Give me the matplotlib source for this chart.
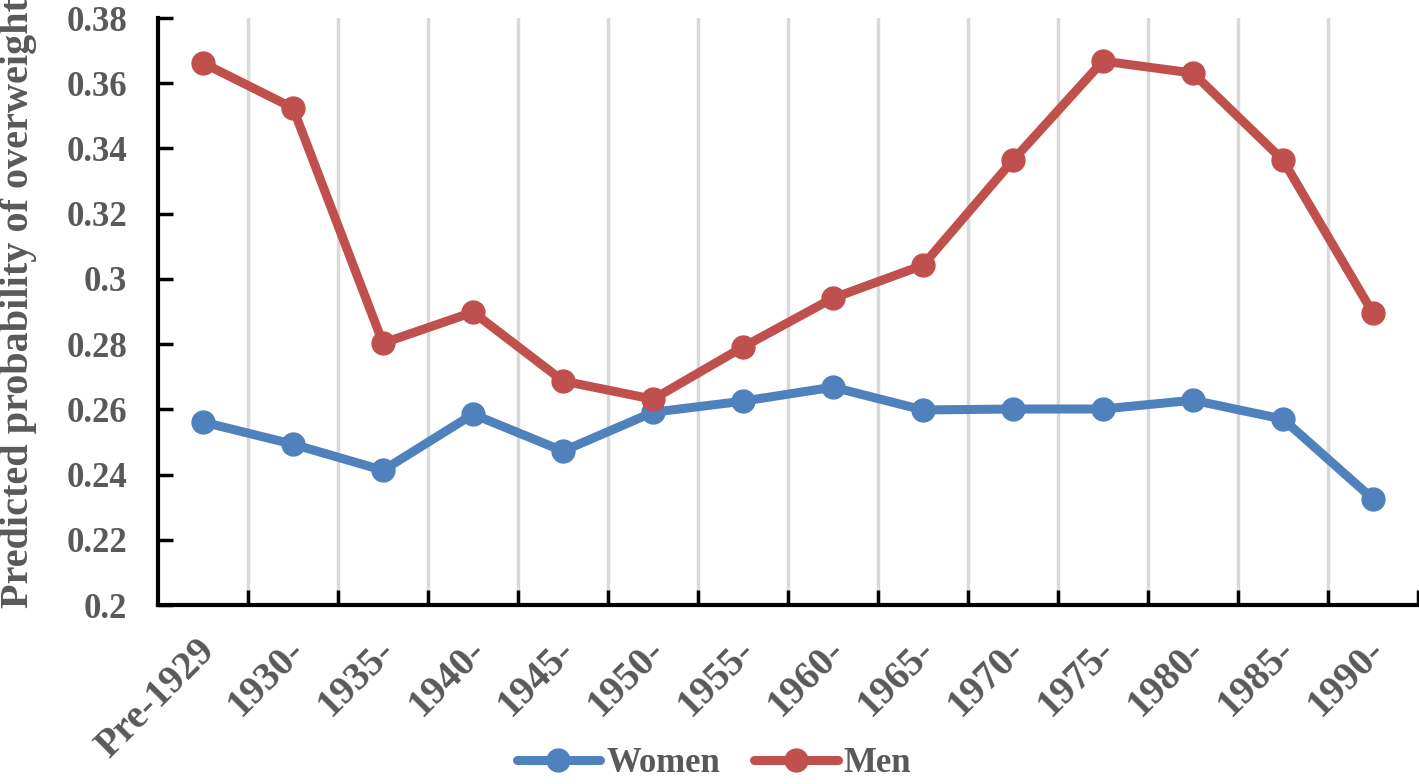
import matplotlib
matplotlib.use("Agg")
import matplotlib.pyplot as plt
import matplotlib.transforms as mtransforms
import numpy as np

categories = ["Pre-1929", "1930-", "1935-", "1940-", "1945-", "1950-", "1955-",
              "1960-", "1965-", "1970-", "1975-", "1980-", "1985-", "1990-"]
women = [0.2561, 0.2493, 0.2413, 0.2585, 0.2472, 0.2591, 0.2625,
         0.2668, 0.2598, 0.2601, 0.2601, 0.2628, 0.2570, 0.2325]
men = [0.3662, 0.3524, 0.2803, 0.2898, 0.2687, 0.2631, 0.2791,
       0.2941, 0.3042, 0.3364, 0.3668, 0.3631, 0.3364, 0.2895]
yticks = [0.2, 0.22, 0.24, 0.26, 0.28, 0.3, 0.32, 0.34, 0.36, 0.38]
ytick_labels = ["0.2", "0.22", "0.24", "0.26", "0.28", "0.3", "0.32", "0.34", "0.36", "0.38"]

plt.rcParams['font.family'] = ['Liberation Serif', 'DejaVu Serif']
plt.rcParams['font.weight'] = 'bold'
txt = '#595959'
blue = '#4F81BD'
red = '#C0504D'

W, H = 1419, 784
fig = plt.figure(figsize=(W / 100, H / 100), dpi=100)
ax = fig.add_axes([158 / W, 1 - 605 / H, (1418 - 158) / W, (605 - 18) / H])

x = np.arange(len(categories))
ax.plot(x, women, color=blue, lw=6.5, marker='o', ms=16.5, label='Women',
        solid_capstyle='round', solid_joinstyle='round', zorder=3)
ax.plot(x, men, color=red, lw=6.5, marker='o', ms=16.5, label='Men',
        solid_capstyle='round', solid_joinstyle='round', zorder=3)

ax.set_xlim(-0.5, len(categories) - 0.5)
ax.set_ylim(0.2, 0.38)

bounds = np.arange(0.5, len(categories), 1.0)
for b in bounds[:-1]:
    ax.axvline(b, color='#D9D9D9', lw=2.5, zorder=1)

ax.set_xticks(bounds)
ax.set_xticklabels([])
ax.set_xticks(x, minor=True)
ax.set_xticklabels(categories, minor=True, rotation=45, ha='right', va='center',
                   rotation_mode='anchor', fontsize=28.5, color=txt, fontweight='bold')
ax.tick_params(axis='x', which='major', direction='in', length=11, width=2.5, color='black')
ax.tick_params(axis='x', which='minor', length=0, pad=28.8)
offset = mtransforms.ScaledTranslation(7 / 100, 0, fig.dpi_scale_trans)
for lab in ax.get_xticklabels(minor=True):
    lab.set_transform(lab.get_transform() + offset)

ax.set_yticks(yticks)
ax.set_yticklabels(ytick_labels, fontsize=25, color=txt, fontweight='bold')
ax.tick_params(axis='y', direction='in', length=11, width=2.5, color='black', pad=22)

for s in ['top', 'right']:
    ax.spines[s].set_visible(False)
for s in ['left', 'bottom']:
    ax.spines[s].set_linewidth(3)
    ax.spines[s].set_color('black')

fig.text(28 / W, 1 - 608 / H, "Predicted probability of overweight", rotation=90,
         rotation_mode='anchor', ha='left', va='baseline', fontsize=29,
         color=txt, fontweight='bold')

leg = fig.legend(loc='center', bbox_to_anchor=(714 / W, 1 - 764 / H), ncol=2,
                 frameon=False, fontsize=25, handlelength=2.4, columnspacing=1.0,
                 handletextpad=0.17, borderpad=0)
for t in leg.get_texts():
    t.set_color(txt)
    t.set_fontweight('bold')

fig.savefig('out.png', dpi=100)
